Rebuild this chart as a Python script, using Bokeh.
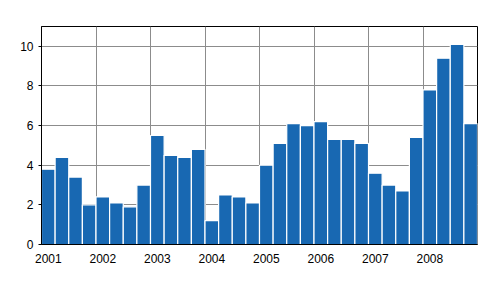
from bokeh.plotting import figure
from bokeh.models import ColumnDataSource, FixedTicker, Range1d
from bokeh.embed import file_html
from bokeh.resources import INLINE

years = ["2001", "2002", "2003", "2004", "2005", "2006", "2007", "2008"]
quarters = [f"{y}Q{q}" for y in years for q in range(1, 5)]
values = [3.8, 4.4, 3.4, 2.0,
          2.4, 2.1, 1.9, 3.0,
          5.5, 4.5, 4.4, 4.8,
          1.2, 2.5, 2.4, 2.1,
          4.0, 5.1, 6.1, 6.0,
          6.2, 5.3, 5.3, 5.1,
          3.6, 3.0, 2.7, 5.4,
          7.8, 9.4, 10.1, 6.1]
y_ticks = [0, 2, 4, 6, 8, 10]

xpos = [i + 0.5 for i in range(len(quarters))]
src = ColumnDataSource(dict(x=xpos, top=values, q=quarters))

p = figure(width=492, height=290, output_backend="svg", toolbar_location=None,
           x_range=Range1d(0, len(quarters)), y_range=Range1d(0, 11),
           min_border_left=41, min_border_right=15, min_border_top=26,
           min_border_bottom=46)

p.vbar(x="x", top="top", width=1.0, source=src, fill_color="#1868b2",
       line_color="white", line_width=1.2)

font = "Liberation Sans"
year_ticks = [4 * i + 0.5 for i in range(len(years))]
p.xaxis.ticker = FixedTicker(ticks=year_ticks)
p.xaxis.major_label_overrides = {t: y for t, y in zip(year_ticks, years)}
p.xaxis.major_tick_out = 0
p.xaxis.major_tick_in = 0
p.xaxis.minor_tick_line_color = None
p.xaxis.major_label_standoff = 9
p.xaxis.major_label_text_font = font
p.xaxis.major_label_text_font_size = "12px"
p.xaxis.major_label_text_color = "black"
p.xaxis.axis_line_color = "black"

p.yaxis.ticker = FixedTicker(ticks=y_ticks)
p.yaxis.major_tick_out = 3
p.yaxis.major_tick_in = 0
p.yaxis.minor_tick_line_color = None
p.yaxis.major_label_standoff = 5
p.yaxis.major_label_text_font = font
p.yaxis.major_label_text_font_size = "12px"
p.yaxis.major_label_text_color = "black"
p.yaxis.axis_line_color = "black"
p.yaxis.major_tick_line_color = "black"

p.xgrid.ticker = FixedTicker(ticks=[4 * i for i in range(1, len(years))])
p.xgrid.grid_line_color = "#8c8c8c"
p.ygrid.grid_line_color = "#8c8c8c"
p.outline_line_color = "black"
p.outline_line_alpha = 1
p.background_fill_color = "white"
p.border_fill_color = "white"

open("out.html", "w").write(file_html(p, INLINE))
